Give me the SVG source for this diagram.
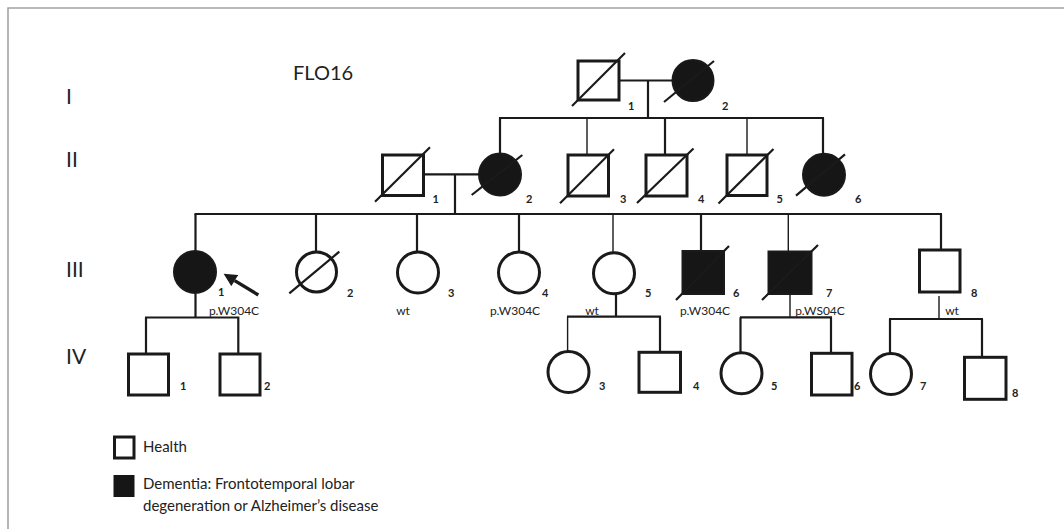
<svg xmlns="http://www.w3.org/2000/svg" width="1064" height="529" viewBox="0 0 1064 529">
  <defs>
    <style>
      .frame { stroke: #a3a3a3; stroke-width: 1.6; fill: none; }
      .sym { stroke: #1a1a1a; stroke-width: 3; fill: #ffffff; }
      .aff { stroke: #1a1a1a; stroke-width: 2; fill: #161616; }
      .dead { stroke: #1a1a1a; stroke-width: 2.2; fill: none; stroke-linecap: butt; }
      .ln { stroke: #1a1a1a; stroke-width: 2.2; fill: none; }
      .thin { stroke: #1a1a1a; stroke-width: 1.4; fill: none; }
      .gen { font-family: "Lato", "Liberation Sans", sans-serif; font-size: 21px; fill: #222; }
      .title { font-family: "Lato", "Liberation Sans", sans-serif; font-size: 20px; fill: #222; }
      .num { font-family: "Lato", "Liberation Sans", sans-serif; font-size: 11px; font-weight: bold; fill: #222; }
      .var { font-family: "Lato", "Liberation Sans", sans-serif; font-size: 12px; fill: #222; text-anchor: middle; }
      .leg { font-family: "Lato", "Liberation Sans", sans-serif; font-size: 15px; fill: #222; }
    </style>
    <marker id="head" viewBox="0 0 10 10" refX="0" refY="5" markerUnits="userSpaceOnUse" markerWidth="14" markerHeight="13" orient="auto">
      <path d="M0,0 L10,5 L0,10 z" fill="#1a1a1a"/>
    </marker>
  </defs>

  <rect width="1064" height="529" fill="#ffffff"/>
  <!-- frame: top and left edges -->
  <path class="frame" d="M8,529 V8 H1064"/>

  <!-- title and generation labels -->
  <text class="title" x="293" y="80">FLO16</text>
  <text class="gen" x="66" y="104">I</text>
  <text class="gen" x="66" y="167">II</text>
  <text class="gen" x="66" y="277">III</text>
  <text class="gen" x="66" y="364">IV</text>

  <!-- connectors -->
  <g id="connectors">
    <!-- generation I couple and sibship -->
    <path class="ln" d="M619,80.5 H672.5 M648,80.5 V118 M499,118 H824"/>
    <path class="ln" d="M500,118 V153.5 M823,118 V153.5 M665,118 V155"/>
    <path class="thin" d="M587,118 V155 M747,118 V155"/>
    <!-- generation II couple and sibship -->
    <path class="ln" d="M423.5,174.3 H479 M455,174.3 V214 M194.5,214 H942"/>
    <path class="ln" d="M195.5,214 V251.5 M316,214 V252 M417,214 V252 M519,214 V252 M701,214 V251 M941,214 V250"/>
    <path class="thin" d="M613,214 V252.5 M788.3,214 V251"/>
    <!-- III-1 offspring -->
    <path class="ln" d="M195.5,293.5 V317.5 M145,317.5 H239 M146,317.5 V354 M238.3,316.5 V354"/>
    <!-- III-5 offspring -->
    <path class="ln" d="M616,294 V316.7 M567,316.7 H661 M660,316.7 V352.3"/>
    <path class="thin" d="M567.6,316.7 V351.5"/>
    <!-- III-7 offspring -->
    <path class="ln" d="M740,317.3 H832 M740.5,317.3 V353 M831,317.3 V353.3"/>
    <path class="thin" d="M790,294 V317.3"/>
    <!-- III-8 offspring -->
    <path class="ln" d="M889,319 H983 M890,319 V353.3 M982,319 V357.3"/>
    <path class="thin" d="M939,296 V319"/>
    <!-- proband arrow -->
    <line x1="258.3" y1="295" x2="234.7" y2="280.6" stroke="#1a1a1a" stroke-width="3.4" marker-end="url(#head)"/>
  </g>

  <!-- generation I -->
  <g id="I-1">
    <rect class="sym" x="578" y="61" width="41" height="39"/>
    <line class="dead" x1="572" y1="106" x2="625" y2="53"/>
    <text class="num" x="628" y="110">1</text>
  </g>
  <g id="I-2">
    <circle class="aff" cx="693" cy="80.5" r="20.5"/>
    <line class="dead" x1="664" y1="102" x2="714" y2="61"/>
    <text class="num" x="722" y="110">2</text>
  </g>

  <!-- generation II -->
  <g id="II-1">
    <rect class="sym" x="382.5" y="155" width="41" height="40.5"/>
    <line class="dead" x1="375" y1="201.7" x2="430" y2="147.3"/>
    <text class="num" x="432.5" y="203">1</text>
  </g>
  <g id="II-2">
    <circle class="aff" cx="500" cy="174.5" r="21"/>
    <line class="dead" x1="471.7" y1="195" x2="522.3" y2="155"/>
    <text class="num" x="526" y="203">2</text>
  </g>
  <g id="II-3">
    <rect class="sym" x="568" y="155" width="40.5" height="41"/>
    <line class="dead" x1="560" y1="203.3" x2="614" y2="149.3"/>
    <text class="num" x="620" y="203">3</text>
  </g>
  <g id="II-4">
    <rect class="sym" x="646" y="155" width="41" height="41"/>
    <line class="dead" x1="637" y1="203" x2="693.5" y2="148.5"/>
    <text class="num" x="698" y="203">4</text>
  </g>
  <g id="II-5">
    <rect class="sym" x="727" y="155" width="40" height="40.5"/>
    <line class="dead" x1="718.5" y1="203.5" x2="773.5" y2="149"/>
    <text class="num" x="776.5" y="203">5</text>
  </g>
  <g id="II-6">
    <circle class="aff" cx="824" cy="174.7" r="21"/>
    <line class="dead" x1="796" y1="195.7" x2="845" y2="154.3"/>
    <text class="num" x="855" y="203">6</text>
  </g>

  <!-- generation III -->
  <g id="III-1">
    <circle class="aff" cx="195" cy="272" r="21"/>
    <text class="num" x="218" y="296">1</text>
    <text class="var" x="234" y="314.5">p.W304C</text>
  </g>
  <g id="III-2">
    <circle class="sym" cx="316.5" cy="272" r="20"/>
    <line class="dead" x1="289.3" y1="293.3" x2="339.3" y2="251.7"/>
    <text class="num" x="347" y="297">2</text>
  </g>
  <g id="III-3">
    <circle class="sym" cx="418" cy="272.5" r="20.5"/>
    <text class="num" x="448" y="297">3</text>
    <text class="var" x="403" y="314.5">wt</text>
  </g>
  <g id="III-4">
    <circle class="sym" cx="519" cy="272.5" r="20.5"/>
    <text class="num" x="542" y="297">4</text>
    <text class="var" x="515" y="314.5">p.W304C</text>
  </g>
  <g id="III-5">
    <circle class="sym" cx="614" cy="273.3" r="20.5"/>
    <text class="num" x="645" y="297">5</text>
    <text class="var" x="592" y="314.5">wt</text>
  </g>
  <g id="III-6">
    <rect class="aff" x="682.5" y="251" width="41.5" height="43"/>
    <line class="dead" x1="676" y1="300" x2="729" y2="246"/>
    <text class="num" x="733" y="297">6</text>
    <text class="var" x="705" y="314.5">p.W304C</text>
  </g>
  <g id="III-7">
    <rect class="aff" x="768.5" y="251.5" width="43" height="42.5"/>
    <line class="dead" x1="762" y1="300" x2="818" y2="245"/>
    <text class="num" x="826" y="297">7</text>
    <text class="var" x="820" y="314.5">p.WS04C</text>
  </g>
  <g id="III-8">
    <rect class="sym" x="919.5" y="250" width="40.5" height="42"/>
    <text class="num" x="971" y="297">8</text>
    <text class="var" x="952" y="314.5">wt</text>
  </g>

  <!-- generation IV -->
  <g id="IV-1">
    <rect class="sym" x="128.5" y="354" width="40" height="41"/>
    <text class="num" x="180" y="390">1</text>
  </g>
  <g id="IV-2">
    <rect class="sym" x="220" y="354" width="40" height="41"/>
    <text class="num" x="264" y="390">2</text>
  </g>
  <g id="IV-3">
    <circle class="sym" cx="568.5" cy="372" r="20.5"/>
    <text class="num" x="599" y="390">3</text>
  </g>
  <g id="IV-4">
    <rect class="sym" x="639" y="352.3" width="41.5" height="40"/>
    <text class="num" x="693" y="390">4</text>
  </g>
  <g id="IV-5">
    <circle class="sym" cx="741.5" cy="373.3" r="20.5"/>
    <text class="num" x="771" y="390">5</text>
  </g>
  <g id="IV-6">
    <rect class="sym" x="811.5" y="353.3" width="40.5" height="41.7"/>
    <text class="num" x="854" y="390">6</text>
  </g>
  <g id="IV-7">
    <circle class="sym" cx="891" cy="374" r="20.5"/>
    <text class="num" x="920" y="390">7</text>
  </g>
  <g id="IV-8">
    <rect class="sym" x="964.5" y="357.3" width="41.5" height="42"/>
    <text class="num" x="1012" y="397">8</text>
  </g>

  <!-- legend -->
  <g id="legend">
    <rect class="sym" x="114.5" y="437" width="19.5" height="21"/>
    <text class="leg" x="143" y="452">Health</text>
    <rect x="113.5" y="475" width="21" height="22" fill="#161616"/>
    <text class="leg" x="143" y="488.5">Dementia: Frontotemporal lobar</text>
    <text class="leg" x="143" y="510.5">degeneration or Alzheimer’s disease</text>
  </g>
</svg>
